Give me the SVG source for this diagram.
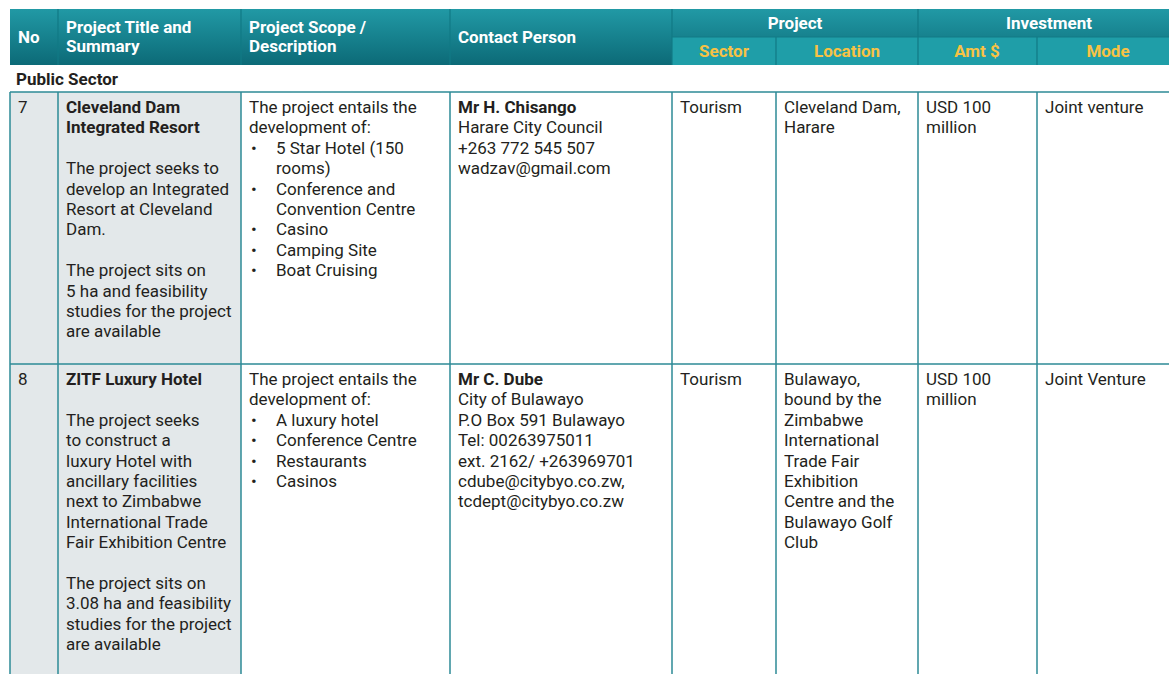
<svg xmlns="http://www.w3.org/2000/svg" width="1169" height="674" viewBox="0 0 1169 674">
<defs>
<linearGradient id="hdr" x1="0" y1="0" x2="0" y2="1">
<stop offset="0" stop-color="#2199a5"/>
<stop offset="1" stop-color="#0c6a77"/>
</linearGradient>
<style>
.t{font-family:Roboto,"Liberation Sans",sans-serif;font-size:17px;fill:#231f20}
.b{font-weight:bold}
.h{font-family:Roboto,"Liberation Sans",sans-serif;font-size:17px;font-weight:bold;fill:#ffffff}
.s{font-family:Roboto,"Liberation Sans",sans-serif;font-size:17px;font-weight:bold;fill:#f7c244}
.c{text-anchor:middle}
.ln{stroke:#2e8b97;stroke-width:1.5;fill:none}
.hl{stroke:#127a85;stroke-width:1.2;fill:none}
</style>
</defs>
<rect width="1169" height="674" fill="#ffffff"/>

<g id="header">
<rect x="10" y="9" width="1170" height="56" fill="url(#hdr)"/>
<rect x="672" y="37" width="508" height="28" fill="#1f9ea8"/>
<path class="hl" d="M58 9V65M241 9V65M450 9V65M672 9V65M918 9V65M776 37V65M1037 37V65M672 37H1169"/>
<text class="h" x="18" y="43">No</text>
<text class="h" x="66" y="33">Project Title and<tspan x="66" y="52">Summary</tspan></text>
<text class="h" x="249" y="33">Project Scope /<tspan x="249" y="52">Description</tspan></text>
<text class="h" x="458" y="43">Contact Person</text>
<text class="h c" x="795" y="29">Project</text>
<text class="h c" x="1049" y="29">Investment</text>
<text class="s c" x="724" y="57">Sector</text>
<text class="s c" x="847" y="57">Location</text>
<text class="s c" x="977" y="57">Amt $</text>
<text class="s c" x="1108" y="57">Mode</text>
</g>

<g id="public-sector">
<text class="t b" x="16" y="85">Public Sector</text>
</g>

<rect x="10" y="92" width="231" height="582" fill="#e3e8ea"/>

<g id="row7">
<text class="t" x="18" y="113">7</text>
<text class="t" x="66" y="113"><tspan class="b">Cleveland Dam</tspan><tspan class="b" x="66" y="133.4">Integrated Resort</tspan><tspan x="66" y="174.2">The project seeks to</tspan><tspan x="66" y="194.6">develop an Integrated</tspan><tspan x="66" y="215">Resort at Cleveland</tspan><tspan x="66" y="235.4">Dam.</tspan><tspan x="66" y="276.2">The project sits on</tspan><tspan x="66" y="296.6">5 ha and feasibility</tspan><tspan x="66" y="317">studies for the project</tspan><tspan x="66" y="337.4">are available</tspan></text>
<text class="t" x="249" y="113">The project entails the<tspan x="249" y="133.4">development of:</tspan></text>
<text class="t" x="251" y="153.8">•<tspan x="251" y="194.6">•</tspan><tspan x="251" y="235.4">•</tspan><tspan x="251" y="255.8">•</tspan><tspan x="251" y="276.2">•</tspan></text>
<text class="t" x="276" y="153.8">5 Star Hotel (150<tspan x="276" y="174.2">rooms)</tspan><tspan x="276" y="194.6">Conference and</tspan><tspan x="276" y="215">Convention Centre</tspan><tspan x="276" y="235.4">Casino</tspan><tspan x="276" y="255.8">Camping Site</tspan><tspan x="276" y="276.2">Boat Cruising</tspan></text>
<text class="t" x="458" y="113"><tspan class="b">Mr H. Chisango</tspan><tspan x="458" y="133.4">Harare City Council</tspan><tspan x="458" y="153.8">+263 772 545 507</tspan><tspan x="458" y="174.2">wadzav@gmail.com</tspan></text>
<text class="t" x="680" y="113">Tourism</text>
<text class="t" x="784" y="113">Cleveland Dam,<tspan x="784" y="133.4">Harare</tspan></text>
<text class="t" x="926" y="113">USD 100<tspan x="926" y="133.4">million</tspan></text>
<text class="t" x="1045" y="113">Joint venture</text>
</g>

<g id="row8">
<text class="t" x="18" y="385">8</text>
<text class="t" x="66" y="385"><tspan class="b">ZITF Luxury Hotel</tspan><tspan x="66" y="425.8">The project seeks</tspan><tspan x="66" y="446.2">to construct a</tspan><tspan x="66" y="466.6">luxury Hotel with</tspan><tspan x="66" y="487">ancillary facilities</tspan><tspan x="66" y="507.4">next to Zimbabwe</tspan><tspan x="66" y="527.8">International Trade</tspan><tspan x="66" y="548.2">Fair Exhibition Centre</tspan><tspan x="66" y="589">The project sits on</tspan><tspan x="66" y="609.4">3.08 ha and feasibility</tspan><tspan x="66" y="629.8">studies for the project</tspan><tspan x="66" y="650.2">are available</tspan></text>
<text class="t" x="249" y="385">The project entails the<tspan x="249" y="405.4">development of:</tspan></text>
<text class="t" x="251" y="425.8">•<tspan x="251" y="446.2">•</tspan><tspan x="251" y="466.6">•</tspan><tspan x="251" y="487">•</tspan></text>
<text class="t" x="276" y="425.8">A luxury hotel<tspan x="276" y="446.2">Conference Centre</tspan><tspan x="276" y="466.6">Restaurants</tspan><tspan x="276" y="487">Casinos</tspan></text>
<text class="t" x="458" y="385"><tspan class="b">Mr C. Dube</tspan><tspan x="458" y="405.4">City of Bulawayo</tspan><tspan x="458" y="425.8">P.O Box 591 Bulawayo</tspan><tspan x="458" y="446.2">Tel: 00263975011</tspan><tspan x="458" y="466.6">ext. 2162/ +263969701</tspan><tspan x="458" y="487">cdube@citybyo.co.zw,</tspan><tspan x="458" y="507.4">tcdept@citybyo.co.zw</tspan></text>
<text class="t" x="680" y="385">Tourism</text>
<text class="t" x="784" y="385">Bulawayo,<tspan x="784" y="405.4">bound by the</tspan><tspan x="784" y="425.8">Zimbabwe</tspan><tspan x="784" y="446.2">International</tspan><tspan x="784" y="466.6">Trade Fair</tspan><tspan x="784" y="487">Exhibition</tspan><tspan x="784" y="507.4">Centre and the</tspan><tspan x="784" y="527.8">Bulawayo Golf</tspan><tspan x="784" y="548.2">Club</tspan></text>
<text class="t" x="926" y="385">USD 100<tspan x="926" y="405.4">million</tspan></text>
<text class="t" x="1045" y="385">Joint Venture</text>
</g>

<g id="connectors">
<path class="ln" d="M10 92H1169M10 364H1169M10 92V674M58 92V674M241 92V674M450 92V674M672 92V674M776 92V674M918 92V674M1037 92V674"/>
</g>
</svg>
